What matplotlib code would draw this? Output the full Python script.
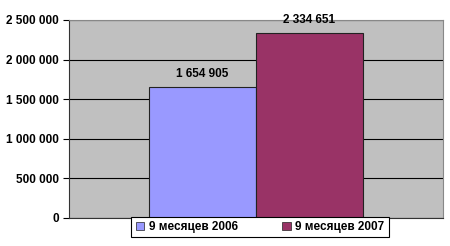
import matplotlib.pyplot as plt
from matplotlib.ticker import FuncFormatter

plt.rcParams['font.family'] = ['Liberation Sans', 'DejaVu Sans']

# data
series = ['9 месяцев 2006', '9 месяцев 2007']
values = [1654905, 2334651]
colors = ['#9999FF', '#993366']

fig = plt.figure(figsize=(4.5, 2.46), dpi=100)
ax = fig.add_axes([0.153, 0.114, 0.831, 0.805])
ax.set_facecolor('#C0C0C0')

xpos = [-0.5, 0.5]
bars = ax.bar(xpos, values, width=1.0, color=colors, edgecolor='#222222',
              linewidth=0.8, label=series, zorder=3)

for x, v in zip(xpos, values):
    ax.annotate(f"{v:,}".replace(',', ' '), (x, v), xytext=(0, 5),
                textcoords='offset points', ha='center', va='bottom',
                fontsize=8.5, fontweight='bold')

ax.set_xlim(-1.75, 1.75)
ax.set_ylim(0, 2500000)
ax.set_yticks(range(0, 2500001, 500000))
ax.yaxis.set_major_formatter(FuncFormatter(lambda v, p: f"{int(v):,}".replace(',', ' ')))
ax.grid(axis='y', color='black', linewidth=0.8, zorder=1)
ax.set_xticks([])
ax.tick_params(axis='y', length=4, width=0.8, labelsize=8.5, pad=3)
for lbl in ax.get_yticklabels():
    lbl.set_fontweight('bold')

ax.spines['left'].set_color('#333333')
ax.spines['bottom'].set_color('#333333')
ax.spines['top'].set_color('#888888')
ax.spines['right'].set_color('#888888')

leg = fig.legend(handles=bars, labels=series, loc='center', ncol=2,
                 bbox_to_anchor=(0.578, 0.077), frameon=True, fancybox=False,
                 edgecolor='black', framealpha=1,
                 prop={'weight': 'bold', 'size': 8.5},
                 handlelength=0.7, handleheight=0.7, handletextpad=0.4,
                 columnspacing=3.8, borderpad=0.35, borderaxespad=0)
leg.get_frame().set_linewidth(0.8)
for h in leg.legend_handles:
    h.set_linewidth(0.5)

fig.savefig('out.png', dpi=100)
